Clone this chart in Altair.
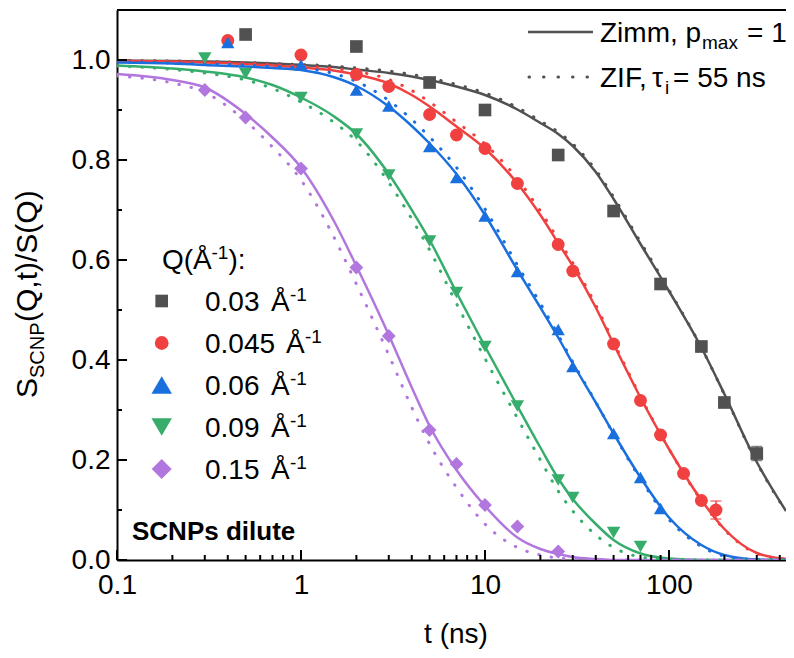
import altair as alt
import pandas as pd

FONT = "Liberation Sans"

# ---------------- data ----------------
series = ["0.03", "0.045", "0.06", "0.09", "0.15"]
colors = ["#515151", "#F14040", "#1A6FDF", "#37AD6B", "#B177DE"]
shapes = ["square", "circle", "triangle-up", "triangle-down", "diamond"]
msizes = [160, 190, 420, 420, 400]

t_q003 = [0.5, 2, 5, 10, 25, 50, 90, 150, 200, 300]
s_q003 = [1.051, 1.027, 0.955, 0.900, 0.810, 0.698, 0.552, 0.427, 0.315, 0.213]

t_q0045 = [0.4, 1, 2, 3, 5, 7, 10, 15, 25, 30, 50, 70, 90, 120, 150, 180]
s_q0045 = [1.039, 1.010, 0.971, 0.947, 0.891, 0.850, 0.823, 0.753, 0.631, 0.578,
           0.432, 0.319, 0.250, 0.173, 0.119, 0.100]

t_q006 = [0.4, 1, 2, 3, 5, 7, 10, 15, 25, 30, 50, 70, 90]
s_q006 = [1.035, 0.990, 0.940, 0.908, 0.827, 0.765, 0.688, 0.577, 0.461, 0.387,
          0.253, 0.165, 0.103]

t_q009 = [0.3, 0.5, 1, 2, 3, 5, 7, 10, 15, 25, 30, 50, 70]
s_q009 = [1.004, 0.973, 0.925, 0.852, 0.770, 0.638, 0.535, 0.427, 0.308, 0.160,
          0.125, 0.055, 0.027]

t_q015 = [0.3, 0.5, 1, 2, 3, 5, 7, 10, 15, 25]
s_q015 = [0.940, 0.885, 0.783, 0.585, 0.448, 0.260, 0.192, 0.110, 0.067, 0.017]

err_t = [300, 180]
err_s = [0.213, 0.100]
err_d = [0.014, 0.018]
err_q = ["0.03", "0.045"]

curve_t = [0.1, 0.2, 0.3, 0.5, 0.7, 1, 1.5, 2, 3, 4, 5, 7, 10, 15, 20, 25, 30,
           40, 50, 70, 100, 150, 200, 300, 432.5]

zimm_003 = [0.999, 0.998, 0.997, 0.995, 0.993, 0.990, 0.986, 0.981, 0.974, 0.967,
            0.960, 0.947, 0.930, 0.901, 0.874, 0.852, 0.828, 0.776, 0.722, 0.632,
            0.538, 0.425, 0.332, 0.196, 0.098]
zif_003 = [0.999, 0.998, 0.997, 0.995, 0.993, 0.991, 0.988, 0.984, 0.978, 0.971,
           0.964, 0.951, 0.934, 0.905, 0.878, 0.856, 0.832, 0.780, 0.726, 0.636,
           0.540, 0.425, 0.331, 0.195, 0.097]

zimm_0045 = [0.998, 0.997, 0.995, 0.992, 0.989, 0.985, 0.979, 0.971, 0.953, 0.930,
             0.907, 0.867, 0.823, 0.753, 0.690, 0.634, 0.588, 0.505, 0.432, 0.325,
             0.222, 0.120, 0.062, 0.014, 0.002]
zif_0045 = [0.998, 0.997, 0.996, 0.994, 0.991, 0.988, 0.983, 0.977, 0.961, 0.939,
            0.916, 0.876, 0.832, 0.762, 0.698, 0.641, 0.594, 0.510, 0.436, 0.327,
            0.222, 0.119, 0.061, 0.013, 0.002]

zimm_006 = [0.995, 0.993, 0.990, 0.987, 0.984, 0.980, 0.966, 0.948, 0.907, 0.868,
            0.833, 0.772, 0.690, 0.580, 0.505, 0.445, 0.393, 0.315, 0.253, 0.165,
            0.085, 0.030, 0.010, 0.001, 0.000]
zif_006 = [0.996, 0.994, 0.992, 0.990, 0.987, 0.984, 0.973, 0.957, 0.919, 0.881,
           0.846, 0.785, 0.702, 0.590, 0.513, 0.450, 0.396, 0.316, 0.252, 0.162,
           0.081, 0.027, 0.008, 0.001, 0.000]

zimm_009 = [0.989, 0.983, 0.977, 0.965, 0.950, 0.925, 0.888, 0.852, 0.772, 0.700,
            0.640, 0.535, 0.427, 0.308, 0.225, 0.163, 0.122, 0.072, 0.040, 0.013,
            0.003, 0.000, 0.000, 0.000, 0.000]
zif_009 = [0.988, 0.981, 0.974, 0.960, 0.943, 0.916, 0.876, 0.838, 0.755, 0.682,
           0.620, 0.513, 0.403, 0.284, 0.200, 0.138, 0.098, 0.050, 0.025, 0.006,
           0.001, 0.000, 0.000, 0.000, 0.000]

zimm_015 = [0.972, 0.960, 0.945, 0.892, 0.845, 0.785, 0.680, 0.588, 0.450, 0.345,
            0.268, 0.180, 0.108, 0.045, 0.022, 0.012, 0.006, 0.002, 0.000, 0.000,
            0.000, 0.000, 0.000, 0.000, 0.000]
zif_015 = [0.968, 0.954, 0.935, 0.878, 0.826, 0.760, 0.648, 0.552, 0.410, 0.305,
           0.232, 0.145, 0.072, 0.025, 0.010, 0.004, 0.002, 0.000, 0.000, 0.000,
           0.000, 0.000, 0.000, 0.000, 0.000]

y_major = [0.0, 0.2, 0.4, 0.6, 0.8, 1.0]
y_minor = [0.1, 0.3, 0.5, 0.7, 0.9]
x_major = [0.1, 1, 10, 100]
x_minor = [0.2, 0.3, 0.4, 0.5, 0.6, 0.7, 0.8, 0.9, 2, 3, 4, 5, 6, 7, 8, 9,
           20, 30, 40, 50, 60, 70, 80, 90, 200, 300, 400]

# ---------------- tables ----------------
pt_t = [t_q003, t_q0045, t_q006, t_q009, t_q015]
pt_s = [s_q003, s_q0045, s_q006, s_q009, s_q015]
pts = pd.DataFrame([{"t": t, "s": s, "q": q}
                    for q, ts, ss in zip(series, pt_t, pt_s) for t, s in zip(ts, ss)])

zimm_all = [zimm_003, zimm_0045, zimm_006, zimm_009, zimm_015]
zif_all = [zif_003, zif_0045, zif_006, zif_009, zif_015]
zimm_df = pd.DataFrame([{"t": t, "s": s, "q": q}
                        for q, ss in zip(series, zimm_all) for t, s in zip(curve_t, ss)])
zif_df = pd.DataFrame([{"t": t, "s": s, "q": q}
                       for q, ss in zip(series, zif_all) for t, s in zip(curve_t, ss)])

err = pd.DataFrame({"t": err_t, "lo": [s - d for s, d in zip(err_s, err_d)],
                    "hi": [s + d for s, d in zip(err_s, err_d)], "q": err_q})

# ---------------- scales / axes ----------------
W, H = 669, 550
xscale = alt.Scale(type="log", domain=[0.1, 432.5], nice=False)
yscale = alt.Scale(domain=[0, 1.1], nice=False, zero=False)
xaxis = alt.Axis(values=x_major, format="~g", title=None, ticks=False, tickSize=0,
                 grid=False, labelPadding=11, labelFontSize=28, labelFont=FONT,
                 labelColor="black", domainColor="black", domainWidth=2,
                 labelFlush=False, labelOverlap=False)
yaxis = alt.Axis(values=y_major, format=".1f", title=None, ticks=False, tickSize=0,
                 grid=False, labelPadding=7, labelFontSize=28, labelFont=FONT,
                 labelColor="black", domainColor="black", domainWidth=2,
                 labelFlush=False, labelOverlap=False)


def X(f):
    return alt.X(f, type="quantitative", scale=xscale, axis=xaxis)


def Y(f):
    return alt.Y(f, type="quantitative", scale=yscale, axis=yaxis)


cscale = alt.Scale(domain=series, range=colors)
shscale = alt.Scale(domain=series, range=shapes)
szscale = alt.Scale(domain=series, range=msizes)

solid = alt.Chart(zimm_df).mark_line(strokeWidth=2.5, interpolate="monotone", clip=True).encode(
    x=X("t"), y=Y("s"), color=alt.Color("q:N", scale=cscale, legend=None))
dotted = alt.Chart(zif_df).mark_line(strokeWidth=3, strokeDash=[0.5, 12], strokeCap="round",
                                     interpolate="monotone", clip=True).encode(
    x=X("t"), y=Y("s"), color=alt.Color("q:N", scale=cscale, legend=None))

points = alt.Chart(pts).mark_point(filled=True, opacity=1, strokeWidth=0).encode(
    x=X("t"), y=Y("s"),
    color=alt.Color("q:N", scale=cscale, legend=None),
    shape=alt.Shape("q:N", scale=shscale, legend=None),
    size=alt.Size("q:N", scale=szscale, legend=None))

ebar = alt.Chart(err).mark_rule(strokeWidth=1.5).encode(
    x=X("t"), y=Y("lo"), y2="hi", color=alt.Color("q:N", scale=cscale, legend=None))
ecap_lo = alt.Chart(err).mark_tick(orient="horizontal", size=11, thickness=1.5).encode(
    x=X("t"), y=Y("lo"), color=alt.Color("q:N", scale=cscale, legend=None))
ecap_hi = alt.Chart(err).mark_tick(orient="horizontal", size=11, thickness=1.5).encode(
    x=X("t"), y=Y("hi"), color=alt.Color("q:N", scale=cscale, legend=None))

# inward ticks
ytick_maj = alt.Chart(pd.DataFrame({"s": y_major})).mark_rule(color="black", strokeWidth=2).encode(
    y=Y("s"), x=alt.value(0), x2=alt.value(10))
ytick_min = alt.Chart(pd.DataFrame({"s": y_minor})).mark_rule(color="black", strokeWidth=2).encode(
    y=Y("s"), x=alt.value(0), x2=alt.value(5))
xtick_maj = alt.Chart(pd.DataFrame({"t": x_major})).mark_rule(color="black", strokeWidth=2).encode(
    x=X("t"), y=alt.value(H), y2=alt.value(H - 10))
xtick_min = alt.Chart(pd.DataFrame({"t": x_minor})).mark_rule(color="black", strokeWidth=2).encode(
    x=X("t"), y=alt.value(H), y2=alt.value(H - 5))
topframe = alt.Chart(pd.DataFrame({"k": [0]})).mark_rule(color="black", strokeWidth=2).encode(
    x=alt.value(0), x2=alt.value(W), y=alt.value(0))

one = pd.DataFrame({"k": [0]})


def label(s, x, y, size=28, weight="normal", angle=0, align="left"):
    return alt.Chart(one).mark_text(text=s, font=FONT, fontSize=size, fontWeight=weight,
                                    angle=angle, align=align, baseline="alphabetic",
                                    color="black").encode(x=alt.value(x), y=alt.value(y))


def sym(shape, color, size, x, y):
    return alt.Chart(one).mark_point(shape=shape, filled=True, opacity=1, strokeWidth=0,
                                     color=color, size=size).encode(x=alt.value(x), y=alt.value(y))


texts = []
# y title  S_SCNP(Q,t)/S(Q)
texts.append(label("S", -80, 388, size=30, angle=270))
texts.append(label("SCNP", -73, 368, size=20, angle=270))
texts.append(label("(Q,t)/S(Q)", -80, 312, size=30, angle=270))
# x title
texts.append(label("t (ns)", 339, 633, align="center"))
# top-right legend
legend_lines = [
    alt.Chart(one).mark_rule(color=colors[0], strokeWidth=2.5).encode(
        x=alt.value(411), x2=alt.value(476), y=alt.value(22)),
    alt.Chart(one).mark_rule(color=colors[0], strokeWidth=3, strokeDash=[0.5, 14],
                             strokeCap="round").encode(
        x=alt.value(412), x2=alt.value(476), y=alt.value(67)),
]
texts.append(label("Zimm, p", 483, 32))
texts.append(label("max", 585, 39, size=19))
texts.append(label("= 1", 630, 32))
texts.append(label("ZIF,", 483, 77))
texts.append(label("\u03c4", 535, 77))
texts.append(label("i", 548, 84, size=19))
texts.append(label("= 55 ns", 556, 77))
# left legend
texts.append(label("Q(\u00c5", 45, 259))
texts.append(label("-1", 94.5, 249, size=19))
texts.append(label("):", 111.5, 259))
entry_base = [301, 343, 385, 427, 469]
entry_a_x = [154, 169, 154, 154, 154]
for q, b, ax, shp, col, sz in zip(series, entry_base, entry_a_x, shapes, colors, msizes):
    texts.append(label(q, 88, b))
    texts.append(label("\u00c5", ax, b))
    texts.append(label("-1", ax + 19, b - 10, size=19))
    texts.append(sym(shp, col, sz, 44.7, b - 10))
texts.append(label("SCNPs dilute", 15, 530, size=26, weight="bold"))

chart = alt.layer(
    solid, dotted, ebar, ecap_lo, ecap_hi, points,
    ytick_maj, ytick_min, xtick_maj, xtick_min, topframe,
    *legend_lines, *texts
).properties(
    width=W, height=H,
    autosize=alt.AutoSizeParams(type="none"),
    padding={"left": 109, "top": 2, "right": 0, "bottom": 90},
).configure_view(stroke=None)

chart.save("out.html", embed_options={"renderer": "svg", "actions": False})
